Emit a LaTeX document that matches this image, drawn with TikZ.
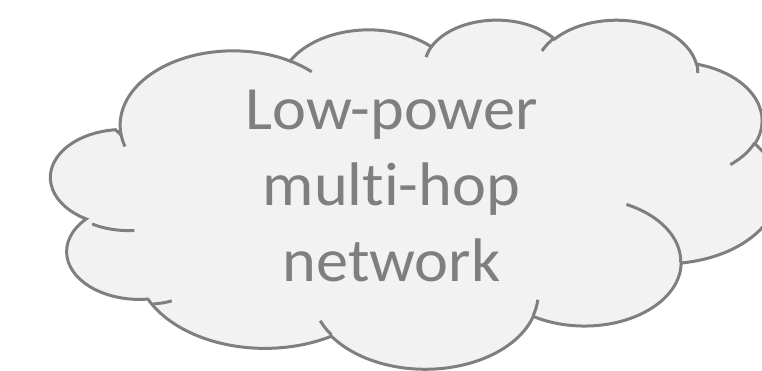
\documentclass[tikz,border=0pt]{standalone}
\usepackage{fontspec}
\setmainfont{Carlito}[Ligatures={NoCommon}]
\definecolor{cloudfill}{HTML}{F2F2F2}
\definecolor{cloudline}{HTML}{7F7F7F}
\definecolor{cloudink}{HTML}{7F7F7F}

% Elliptical arc given by radii and a visual start angle / sweep (degrees),
% converted to the parametric angles that TikZ's arc expects.
\newcommand\cloudang[4]{%
  \pgfmathsetmacro\cldS{atan2((#1)*sin(#3),(#2)*cos(#3))}%
  \pgfmathsetmacro\cldT{atan2((#1)*sin((#3)+(#4)),(#2)*cos((#3)+(#4)))}%
  \pgfmathsetmacro\cldE{\cldS+mod(\cldT-\cldS+720,360)}%
}
\newcommand\cloudarc[4]{%
  arc[/utils/exec={\cloudang{#1}{#2}{#3}{#4}}, x radius=#1, y radius=#2,
      start angle=\cldS, end angle=\cldE]}

\tikzset{
  cloudbody/.style={draw=cloudline, fill=cloudfill, line width=3pt},
  cloudcrease/.style={draw=cloudline, line width=3pt},
  cloudlabel/.style={text=cloudink, font=\fontsize{61.5}{74}\selectfont,
                     inner sep=0pt, anchor=base, xscale=1.045}
}

\begin{document}
\begin{tikzpicture}[x=1pt,y=1pt]
\useasboundingbox (0,0) rectangle (762,-371);
\clip (0,0) rectangle (762,-371);

% cloud outline in a 432 x 432 box
\begin{scope}[shift={(56pt,-19pt)}, x=1.671296pt, y=-0.807870pt]
  \path[cloudbody] (39.00,143.70)
    \cloudarc{67.53}{91.90}{-190.4875}{123.7805}
    \cloudarc{53.33}{72.67}{-144.1024}{89.9452}
    \cloudarc{43.65}{59.45}{-145.8079}{99.7230}
    \cloudarc{48.57}{65.95}{-130.9861}{117.2417}
    \cloudarc{53.33}{72.73}{-78.7089}{109.0269}
    \cloudarc{67.75}{92.20}{-46.2673}{130.2690}
    \cloudarc{57.85}{78.67}{0.6250}{114.0333}
    \cloudarc{67.52}{92.15}{22.4516}{115.1726}
    \cloudarc{77.20}{105.43}{66.2426}{81.3699}
    \cloudarc{43.60}{59.18}{-274.9421}{146.7356}
    \cloudarc{43.45}{59.45}{-246.8285}{152.5189}
    -- cycle;

  % inner creases between the puffs
  \path[cloudcrease]
    (46.93,261.77)  \cloudarc{43.45}{59.45}{86.7420}{26.4295}
    (69.28,348.99)  \cloudarc{43.60}{59.18}{73.6105}{11.4475}
    (164.78,390.90) \cloudarc{67.52}{92.15}{137.6242}{14.0811}
    (288.27,347.51) \cloudarc{67.52}{92.15}{6.4533}{15.9984}
    (341.29,229.54) \cloudarc{57.85}{78.67}{-70.2924}{70.9174}
    (417.98,153.54) \cloudarc{53.33}{72.73}{30.3180}{27.7515}
    (383.24,54.26)  \cloudarc{48.57}{65.95}{-13.7443}{14.8653}
    (290.78,39.52)  \cloudarc{48.57}{65.95}{-149.1815}{18.1959}
    (221.41,47.20)  \cloudarc{43.65}{59.45}{-163.4943}{17.6953}
    (140.00,51.92)  \cloudarc{67.53}{91.90}{-66.7070}{12.3194}
    (41.27,157.89)  \cloudarc{67.53}{91.90}{157.6544}{11.8582};
\end{scope}

\node[cloudlabel] (lineA) at (391.5,-129.3) {Low-power};
\node[cloudlabel] (lineB) at (391.5,-206) {multi-hop};
\node[cloudlabel] (lineC) at (391.5,-281.5) {network};
\end{tikzpicture}
\end{document}
